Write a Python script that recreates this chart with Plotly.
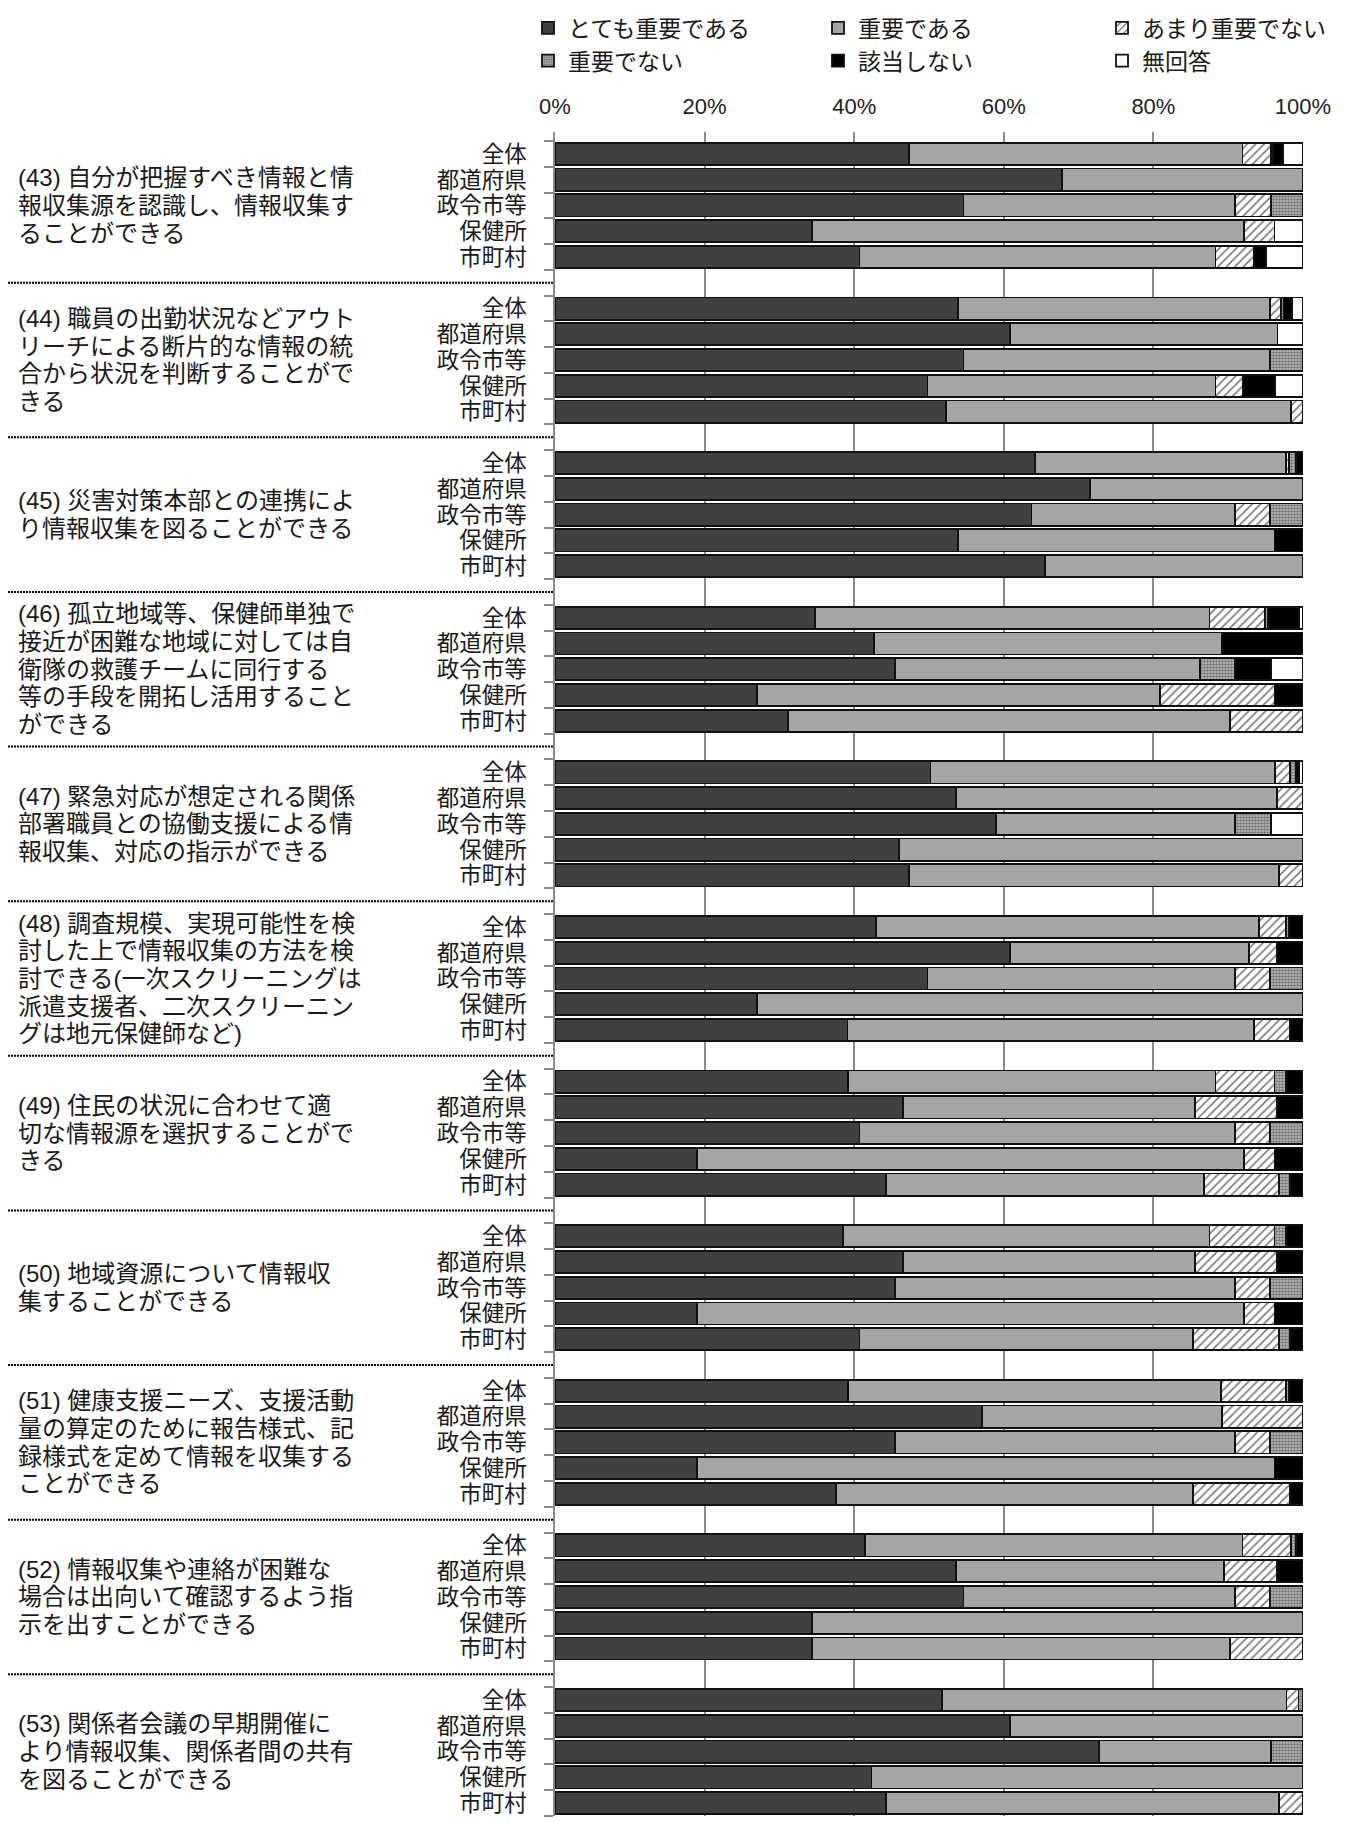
import plotly.graph_objects as go

# Respondent groups shown for every question
sub_groups = ["全体", "都道府県", "政令市等", "保健所", "市町村"]

# Question texts, one list entry per printed line
questions = [
    ["(43) 自分が把握すべき情報と情", "報収集源を認識し、情報収集す", "ることができる"],
    ["(44) 職員の出勤状況などアウト", "リーチによる断片的な情報の統", "合から状況を判断することがで", "きる"],
    ["(45) 災害対策本部との連携によ", "り情報収集を図ることができる"],
    ["(46) 孤立地域等、保健師単独で", "接近が困難な地域に対しては自", "衛隊の救護チームに同行する", "等の手段を開拓し活用すること", "ができる"],
    ["(47) 緊急対応が想定される関係", "部署職員との協働支援による情", "報収集、対応の指示ができる"],
    ["(48) 調査規模、実現可能性を検", "討した上で情報収集の方法を検", "討できる(一次スクリーニングは", "派遣支援者、二次スクリーニン", "グは地元保健師など)"],
    ["(49) 住民の状況に合わせて適", "切な情報源を選択することがで", "きる"],
    ["(50) 地域資源について情報収", "集することができる"],
    ["(51) 健康支援ニーズ、支援活動", "量の算定のために報告様式、記", "録様式を定めて情報を収集する", "ことができる"],
    ["(52) 情報収集や連絡が困難な", "場合は出向いて確認するよう指", "示を出すことができる"],
    ["(53) 関係者会議の早期開催に", "より情報収集、関係者間の共有", "を図ることができる"],
]

series_names = ["とても重要である", "重要である", "あまり重要でない", "重要でない", "該当しない", "無回答"]

# Percentages, 5 values (全体, 都道府県, 政令市等, 保健所, 市町村) per question, (43)..(53)
very_important = [
    47.3, 67.8, 54.6, 34.4, 40.7,
    53.9, 60.8, 54.6, 49.8, 52.3,
    64.2, 71.5, 63.7, 53.9, 65.5,
    34.8, 42.6, 45.5, 27.0, 31.1,
    50.2, 53.6, 59.0, 46.0, 47.3,
    42.9, 60.8, 49.8, 27.0, 39.1,
    39.2, 46.5, 40.7, 19.0, 44.2,
    38.5, 46.5, 45.5, 19.0, 40.7,
    39.2, 57.1, 45.5, 19.0, 37.6,
    41.4, 53.6, 54.6, 34.4, 34.4,
    51.7, 60.8, 72.7, 42.3, 44.2,
]
important = [
    44.6, 32.2, 36.3, 57.7, 47.6,
    41.7, 35.8, 41.0, 38.5, 46.1,
    33.5, 28.5, 27.2, 42.3, 34.5,
    52.7, 46.6, 40.7, 53.9, 59.1,
    46.1, 42.9, 31.9, 54.0, 49.5,
    51.2, 32.0, 41.1, 73.0, 54.3,
    49.1, 39.1, 50.2, 73.1, 42.6,
    49.0, 39.1, 45.4, 73.1, 44.6,
    49.8, 32.1, 45.4, 77.2, 47.7,
    50.5, 35.8, 36.3, 65.6, 55.8,
    46.1, 39.2, 23.0, 57.7, 52.6,
]
not_very_important = [
    3.8, 0, 4.8, 4.1, 5.1,
    1.5, 0, 0, 3.7, 1.6,
    0.4, 0, 4.7, 0, 0,
    7.4, 0, 0, 15.3, 9.8,
    2.0, 3.5, 0, 0, 3.2,
    3.6, 3.7, 4.7, 0, 4.9,
    7.9, 10.9, 4.7, 4.1, 10.0,
    8.7, 10.9, 4.7, 4.1, 11.5,
    8.7, 10.8, 4.7, 0, 13.0,
    6.5, 7.1, 4.7, 0, 9.8,
    1.6, 0, 0, 0, 3.2,
]
not_important = [
    0.3, 0, 4.3, 0, 0,
    0.3, 0, 4.4, 0, 0,
    1.0, 0, 4.4, 0, 0,
    0.4, 0, 4.7, 0, 0,
    0.8, 0, 4.8, 0, 0,
    0.4, 0, 4.4, 0, 0,
    1.5, 0, 4.4, 0, 1.5,
    1.5, 0, 4.4, 0, 1.5,
    0.4, 0, 4.4, 0, 0,
    0.7, 0, 4.4, 0, 0,
    0.6, 0, 4.3, 0, 0,
]
not_applicable = [
    1.3, 0, 0, 0, 1.6,
    1.1, 0, 0, 4.3, 0,
    0.9, 0, 0, 3.8, 0,
    4.2, 10.8, 4.8, 3.8, 0,
    0.4, 0, 0, 0, 0,
    1.9, 3.5, 0, 0, 1.7,
    2.3, 3.5, 0, 3.8, 1.7,
    2.3, 3.5, 0, 3.8, 1.7,
    1.9, 0, 0, 3.8, 1.7,
    0.9, 3.5, 0, 0, 0,
    0, 0, 0, 0, 0,
]
no_answer = [
    2.7, 0, 0, 3.8, 5.0,
    1.5, 3.4, 0, 3.7, 0,
    0, 0, 0, 0, 0,
    0.5, 0, 4.3, 0, 0,
    0.5, 0, 4.3, 0, 0,
    0, 0, 0, 0, 0,
    0, 0, 0, 0, 0,
    0, 0, 0, 0, 0,
    0, 0, 0, 0, 0,
    0, 0, 0, 0, 0,
    0, 0, 0, 0, 0,
]

x_ticks = [0, 20, 40, 60, 80, 100]

# Latin text from Liberation Sans, Japanese glyphs from Noto Sans CJK JP
FONT = "Liberation Sans, Noto Sans CJK JP"
TEXT = "#1a1a1a"
GRID = "#8a8a8a"
EDGE = "#111111"

# Each question occupies 6 rows: 5 bars plus a blank spacer row
ROWS_PER_GROUP = len(sub_groups) + 1
n_groups = len(questions)
y_pos, y_text = [], []
for g in range(n_groups):
    for k, name in enumerate(sub_groups):
        y_pos.append(g * ROWS_PER_GROUP + k)
        y_text.append(name)
last_row = y_pos[-1]

styles = [
    dict(color="#404040"),
    dict(color="#a6a6a6"),
    dict(color="#ffffff", pattern=dict(shape="/", fgcolor="#000000", bgcolor="#ffffff", size=6, solidity=0.3)),
    dict(color="#bdbdbd", pattern=dict(shape=".", fgcolor="#262626", bgcolor="#c4c4c4", size=3, solidity=0.6)),
    dict(color="#000000"),
    dict(color="#ffffff"),
]
values = [very_important, important, not_very_important, not_important, not_applicable, no_answer]
# Legend laid out as three columns of two entries
legend_ids = ["legend", "legend2", "legend3", "legend", "legend2", "legend3"]

fig = go.Figure()
for name, vals, st, lg in zip(series_names, values, styles, legend_ids):
    fig.add_trace(go.Bar(
        y=y_pos, x=vals, name=name, orientation="h",
        marker=dict(line=dict(color=EDGE, width=1.8), **st),
        legend=lg, hoverinfo="skip",
    ))

# Plot-area geometry (pixels)
W, H = 1349, 1822
L, R, T, B = 555, 46, 127, 6
plot_w = W - L - R
plot_h = H - T - B
top_pad = 0.35  # extra space above first row, in row units


def px_to_paper_x(px):
    return (px - L) / plot_w


def px_to_paper_y(py):
    return 1 + (T - py) / plot_h


annotations = []
line_step = 1.075  # spacing between wrapped lines, in row units
for g, lines in enumerate(questions):
    center = g * ROWS_PER_GROUP + 2
    n = len(lines)
    for j, line in enumerate(lines):
        annotations.append(dict(
            x=px_to_paper_x(16), xref="paper", xanchor="left",
            y=center + (j - (n - 1) / 2) * line_step, yref="y", yanchor="middle",
            text=line, showarrow=False,
            font=dict(family=FONT, size=24, color=TEXT),
        ))

shapes = []
for g in range(n_groups):
    yy = g * ROWS_PER_GROUP - 1
    shapes.append(dict(
        type="line", xref="paper", yref="y",
        x0=px_to_paper_x(8), x1=px_to_paper_x(553), y0=yy, y1=yy,
        line=dict(color="#000000", width=2, dash="2px,1px"),
        layer="above",
    ))

legend_common = dict(
    orientation="v", xref="paper", yref="paper", xanchor="left", yanchor="top",
    font=dict(family=FONT, size=23, color=TEXT), bgcolor="rgba(0,0,0,0)",
    traceorder="normal", itemclick=False, itemdoubleclick=False,
    y=px_to_paper_y(1),
)

fig.update_layout(
    width=W, height=H,
    margin=dict(l=L, r=R, t=T, b=B, pad=0),
    paper_bgcolor="#ffffff", plot_bgcolor="#ffffff",
    barmode="stack", bargap=0.14,
    font=dict(family=FONT, color=TEXT),
    showlegend=True,
    legend=dict(x=px_to_paper_x(528), **legend_common),
    legend2=dict(x=px_to_paper_x(818), **legend_common),
    legend3=dict(x=px_to_paper_x(1102), **legend_common),
    xaxis=dict(
        range=[0, 100], side="top", tickvals=x_ticks,
        ticktext=[f"{v}%" for v in x_ticks],
        showgrid=True, gridcolor=GRID, gridwidth=1.5,
        zeroline=False, showline=False, ticks="",
        ticklabelstandoff=13,
        tickfont=dict(family=FONT, size=22, color="#222222"),
        fixedrange=True,
    ),
    yaxis=dict(
        range=[last_row + 0.5, -0.5 - top_pad],
        tickmode="array", tickvals=y_pos, ticktext=y_text,
        ticks="", showgrid=False, zeroline=False,
        showline=True, linecolor=GRID, linewidth=1.5,
        ticklabelstandoff=22,
        tickfont=dict(family=FONT, size=22.5, color=TEXT),
        minor=dict(
            tickmode="array",
            tickvals=[i - 0.5 for i in range(last_row + 2)],
            ticks="outside", ticklen=9, tickcolor=GRID, tickwidth=1.5,
            showgrid=False,
        ),
        fixedrange=True,
    ),
    annotations=annotations,
    shapes=shapes,
)

fig.write_html("out.html")
